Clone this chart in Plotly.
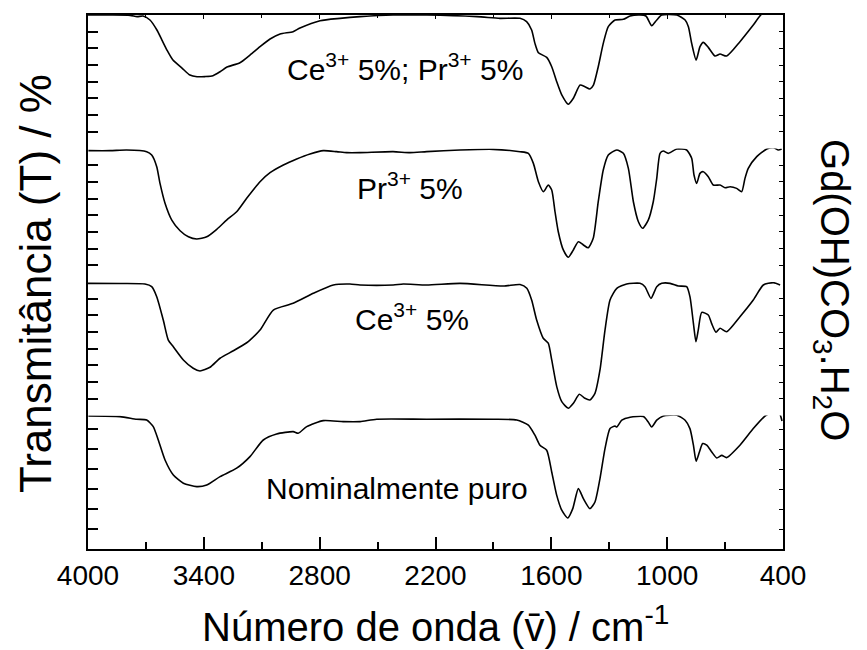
import plotly.graph_objects as go

# ---------------- data (wavenumber cm^-1, transmittance in a.u. of each panel) ----------------
wn_cepr = [4000, 3886, 3782, 3746, 3715, 3679, 3643, 3617, 3591, 3560, 3513, 3472, 3435, 3394, 3353,
           3316, 3280, 3213, 3161, 3109, 3057, 3005, 2938, 2902, 2798, 2695, 2591, 2420, 2244, 1985,
           1866, 1762, 1728, 1702, 1685, 1667, 1624, 1598, 1572, 1546, 1512, 1486, 1451, 1426, 1400,
           1382, 1357, 1331, 1305, 1270, 1227, 1192, 1141, 1110, 1080, 1054, 1028, 950, 907, 890,
           873, 850, 830, 813, 787, 752, 726, 692, 623, 554, 510, 467, 400]
t_cepr = [100, 100, 99.8, 99.0, 99.4, 97.0, 91.0, 85.0, 79.0, 73.0, 68.2, 64.0, 63.0, 63.1, 63.6,
          66.0, 68.8, 71.4, 76.0, 81.0, 85.6, 88.6, 90.0, 92.2, 96.6, 98.0, 99.0, 100, 100, 99.0,
          98.0, 98.0, 96.0, 91.0, 83.0, 77.4, 74.6, 69.0, 60.0, 52.1, 46.5, 50.1, 58.0, 57.0, 55.7,
          58.0, 69.0, 83.0, 93.0, 97.0, 97.4, 99.4, 100, 99.4, 93.6, 97.0, 100, 100, 97.0, 93.0,
          83.0, 73.0, 81.0, 83.6, 80.6, 75.4, 76.6, 75.4, 84.0, 94.0, 100.6, 101.8, 101.8]

wn_pr = [3998, 3886, 3800, 3696, 3670, 3644, 3627, 3601, 3566, 3523, 3480, 3437, 3385, 3333, 3282,
         3230, 3178, 3109, 3057, 2988, 2919, 2850, 2781, 2712, 2660, 2591, 2420, 2332, 2246, 2073,
         1901, 1762, 1719, 1693, 1667, 1641, 1616, 1598, 1581, 1564, 1538, 1512, 1486, 1460, 1434,
         1409, 1383, 1357, 1331, 1305, 1261, 1227, 1201, 1175, 1149, 1127, 1098, 1072, 1054, 1037,
         1020, 994, 950, 899, 873, 861, 847, 830, 813, 787, 761, 726, 700, 674, 640, 614, 597, 580,
         536, 484, 450, 424, 407]
t_pr = [98.7, 98.7, 99.1, 98.1, 96.1, 89.1, 79.1, 67.2, 57.1, 50.7, 47.1, 45.8, 47.1, 51.6, 57.1,
        62.1, 70.2, 80.1, 85.5, 90.1, 93.7, 96.7, 98.7, 98.1, 97.5, 97.5, 98.1, 97.5, 98.1, 99.1,
        99.5, 98.1, 97.1, 91.1, 80.1, 74.1, 78.1, 75.1, 62.1, 50.1, 39.2, 34.8, 39.2, 44.1, 42.2,
        40.5, 46.2, 68.1, 87.1, 96.1, 99.1, 97.1, 88.1, 68.1, 56.1, 52.2, 57.1, 68.1, 82.1, 97.1,
        98.5, 97.1, 99.7, 99.1, 94.1, 84.1, 79.1, 85.1, 86.1, 83.1, 78.1, 78.1, 76.5, 77.1, 76.1,
        74.1, 82.1, 88.1, 95.1, 99.7, 100.5, 99.1, 99.7]

wn_ce = [4000, 3834, 3705, 3670, 3644, 3610, 3584, 3558, 3506, 3455, 3420, 3368, 3316, 3247, 3178,
         3161, 3109, 3040, 2937, 2833, 2729, 2643, 2591, 2419, 2367, 2246, 2073, 1849, 1762, 1727,
         1702, 1676, 1642, 1616, 1598, 1572, 1546, 1512, 1486, 1455, 1426, 1400, 1374, 1348, 1322,
         1296, 1261, 1210, 1141, 1115, 1084, 1054, 1028, 985, 942, 899, 882, 864, 851, 839, 821,
         787, 770, 747, 726, 692, 623, 554, 502, 450, 415]
t_ce = [99.2, 99.1, 98.8, 97.2, 91.2, 77.2, 65.2, 61.2, 53.3, 48.3, 46.7, 48.9, 54.3, 58.8, 63.6,
        65.2, 71.2, 83.2, 87.2, 93.2, 98.2, 98.8, 98.2, 98.2, 98.8, 98.2, 99.2, 97.6, 98.5, 96.2,
        89.2, 77.2, 66.3, 63.3, 53.3, 37.3, 28.3, 24.3, 27.3, 32.7, 30.3, 29.3, 33.3, 47.3, 71.2,
        89.2, 96.2, 98.8, 99.2, 97.2, 90.2, 97.2, 99.2, 99.2, 97.6, 97.2, 91.2, 75.2, 64.2, 71.2,
        81.8, 80.2, 75.2, 69.9, 72.3, 70.2, 79.2, 89.2, 98.2, 99.6, 98.2]

wn_puro = [3998, 3834, 3748, 3696, 3662, 3636, 3601, 3558, 3506, 3437, 3385, 3316, 3230, 3161, 3092,
           3023, 2937, 2911, 2867, 2781, 2678, 2591, 2505, 2246, 1901, 1779, 1719, 1685, 1659, 1624,
           1598, 1572, 1546, 1515, 1489, 1460, 1434, 1400, 1374, 1348, 1322, 1296, 1270, 1261, 1235,
           1192, 1123, 1098, 1080, 1054, 1020, 950, 907, 882, 864, 850, 833, 816, 795, 769, 743, 717,
           692, 623, 554, 493, 458, 420, 405]
t_puro = [96.5, 96.2, 94.9, 94.5, 91.2, 84.5, 74.5, 67.0, 62.9, 61.2, 62.0, 66.2, 70.4, 76.2, 84.5,
          87.5, 88.7, 87.9, 91.2, 94.2, 93.7, 93.7, 94.9, 94.9, 94.9, 94.5, 91.9, 86.9, 81.9, 79.4,
          68.5, 56.8, 49.4, 45.5, 50.2, 60.2, 55.2, 50.2, 53.5, 65.2, 80.2, 90.2, 91.5, 91.0, 94.4,
          95.9, 96.2, 93.5, 91.0, 94.4, 96.5, 96.9, 94.4, 90.2, 81.9, 73.9, 78.5, 82.7, 81.9, 78.5,
          75.5, 76.8, 75.7, 81.9, 90.2, 96.5, 98.0, 98.0, 94.0]

labels = ["Ce<sup>3+</sup> 5%; Pr<sup>3+</sup> 5%", "Pr<sup>3+</sup> 5%", "Ce<sup>3+</sup> 5%",
          "Nominalmente puro"]
x_ticks = [4000, 3400, 2800, 2200, 1600, 1000, 400]

FONT = "Liberation Sans, Arial, Helvetica, sans-serif"
LW = 1.6

fig = go.Figure()
series = [(wn_puro, t_puro, "y"), (wn_ce, t_ce, "y2"), (wn_pr, t_pr, "y3"), (wn_cepr, t_cepr, "y4")]
for wx, ty, ya in series:
    fig.add_trace(go.Scatter(x=wx, y=ty, mode="lines", xaxis="x", yaxis=ya,
                             line=dict(color="black", width=LW, shape="spline", smoothing=0.6),
                             showlegend=False, hoverinfo="skip"))
# empty traces so the decorative mirrored axes are drawn
for ya in ["y5", "y6", "y7", "y8"]:
    fig.add_trace(go.Scatter(x=[], y=[], xaxis="x", yaxis=ya, showlegend=False))
fig.add_trace(go.Scatter(x=[], y=[], xaxis="x2", yaxis="y4", showlegend=False))

ax_common = dict(showgrid=False, zeroline=False, showline=True, linecolor="black", linewidth=2,
                 ticks="inside", tickcolor="black")

fig.update_layout(
    width=867, height=650, margin=dict(l=88, r=84, t=15, b=101),
    paper_bgcolor="white", plot_bgcolor="white",
    font=dict(family=FONT, color="black"),
    xaxis=dict(**ax_common, range=[4000, 400], tickvals=x_ticks, ticklen=12, tickwidth=1.5,
               minor=dict(dtick=300, tick0=400, ticklen=7, tickwidth=1.5, ticks="inside",
                          tickcolor="black"),
               tickfont=dict(size=28, family=FONT), anchor="y"),
    xaxis2=dict(**ax_common, range=[4000, 400], overlaying="x", side="top", anchor="y4",
                tickvals=x_ticks, ticklen=4, tickwidth=1.2, showticklabels=False,
                minor=dict(dtick=300, tick0=400, ticklen=3, tickwidth=1.2, ticks="inside",
                           tickcolor="black")),
)

doms = [[0, 0.25], [0.25, 0.5], [0.5, 0.75], [0.75, 1.0]]
rngs = [[30, 96.75], [20, 100], [20, 100], [20, 100]]
names = ["yaxis", "yaxis2", "yaxis3", "yaxis4"]
for i in range(4):
    fig.layout[names[i]] = dict(**ax_common, domain=doms[i], range=rngs[i], tick0=0, dtick=10,
                                ticklen=10, tickwidth=1.5, showticklabels=False, anchor="x")
    fig.layout["yaxis%d" % (i + 5)] = dict(**ax_common, range=rngs[i], tick0=0, dtick=10,
                                           overlaying=("y" if i == 0 else "y%d" % (i + 1)),
                                           side="right", anchor="x", ticklen=4, tickwidth=1.2,
                                           showticklabels=False)

ann_pos = [(2358, 68.8, "y4"), (2332, 77.5, "y3"), (2322, 79.0, "y2"), (2399, 60.5, "y")]
for (ax_, ay_, yr), txt in zip(ann_pos, labels):
    fig.add_annotation(x=ax_, y=ay_, xref="x", yref=yr, text=txt, showarrow=False,
                       font=dict(size=30, family=FONT), xanchor="center", yanchor="middle")

fig.add_annotation(x=0.5, y=-0.14, xref="paper", yref="paper", showarrow=False,
                   text="Número de onda (v\u0304) / cm<sup>-1</sup>", font=dict(size=40, family=FONT),
                   xanchor="center", yanchor="middle")
fig.add_annotation(x=-0.0763, y=0.498, xref="paper", yref="paper", showarrow=False,
                   text="Transmitância (T) / %", textangle=-90, font=dict(size=44, family=FONT),
                   xanchor="center", yanchor="middle")
fig.add_annotation(x=1.0705, y=0.485, xref="paper", yref="paper", showarrow=False,
                   text="Gd(OH)CO<sub>3</sub>.H<sub>2</sub>O", textangle=90,
                   font=dict(size=40, family=FONT), xanchor="center", yanchor="middle")

fig.write_html("out.html")
